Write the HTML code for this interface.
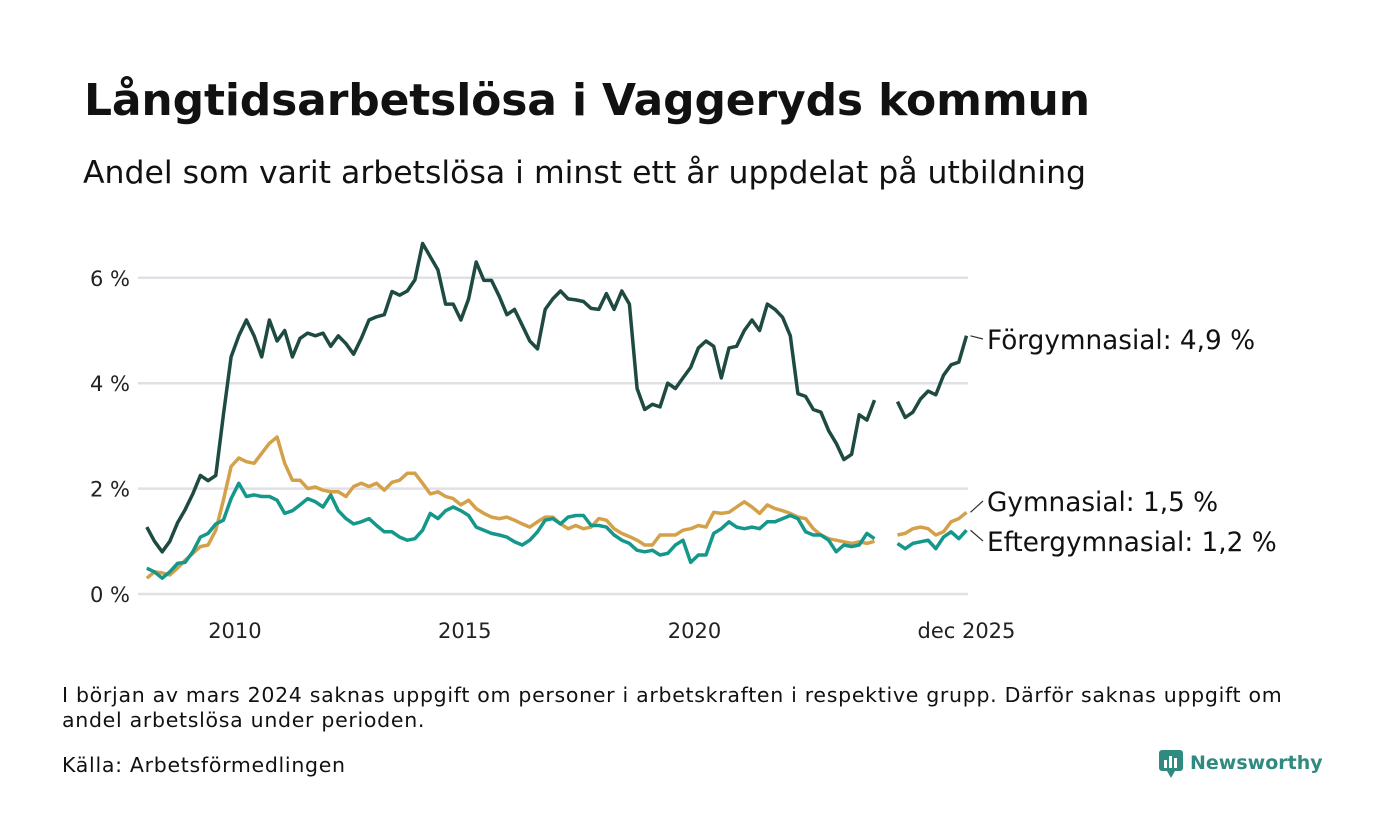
<!DOCTYPE html>
<html><head><meta charset="utf-8">
<style>
body{margin:0;background:#fff;font-family:"Liberation Sans","DejaVu Sans",sans-serif;}
#wrap{position:relative;width:1400px;height:840px;overflow:hidden;background:#fff;}
.t{position:absolute;white-space:nowrap;color:#111;}
</style></head>
<body>
<div id="wrap">
<div class="t" style="left:84px;top:75px;font-size:44px;font-weight:bold;font-family:'DejaVu Sans',sans-serif;letter-spacing:-0.15px;">Långtidsarbetslösa i Vaggeryds kommun</div>
<div class="t" style="left:83px;top:155px;font-size:31.5px;font-family:'DejaVu Sans',sans-serif;">Andel som varit arbetslösa i minst ett år uppdelat på utbildning</div>
<svg id="chart" width="1400" height="660" style="position:absolute;left:0;top:0;font-family:'DejaVu Sans',sans-serif;"></svg>
<div class="t" style="left:62px;top:683px;font-size:20.5px;letter-spacing:0.7px;line-height:25px;white-space:normal;width:1240px;font-family:'DejaVu Sans',sans-serif;">I början av mars 2024 saknas uppgift om personer i arbetskraften i respektive grupp. Därför saknas uppgift om andel arbetslösa under perioden.</div>
<div class="t" style="left:62px;top:753px;font-size:20.5px;letter-spacing:0.7px;font-family:'DejaVu Sans',sans-serif;">Källa: Arbetsförmedlingen</div>
<div style="position:absolute;left:1158px;top:747px;height:32px;display:flex;align-items:center;">
<svg width="26" height="32"><rect x="1" y="3" width="24" height="21" rx="3" fill="#2f8a80"/><polygon points="9,24 17,24 13,31" fill="#2f8a80"/><rect x="6" y="13" width="3" height="8" fill="#fff"/><rect x="11" y="9" width="3" height="12" fill="#fff"/><rect x="16" y="11" width="3" height="10" fill="#fff"/></svg>
<span style="margin-left:6px;font-size:19px;font-weight:bold;color:#2f8a80;font-family:'DejaVu Sans',sans-serif;">Newsworthy</span>
</div>
</div>
<script>
// Bimonthly observations: Feb, Apr, Jun, Aug, Oct, Dec of each year 2008–2025
const years = [2008,2009,2010,2011,2012,2013,2014,2015,2016,2017,2018,2019,2020,2021,2022,2023,2024,2025];
const monthsInYear = [1,3,5,7,9,11];
const forgymnasial = [
1.27,1.0,0.8,1.0,1.35,1.6,
1.9,2.25,2.15,2.25,3.4,4.5,
4.9,5.2,4.9,4.5,5.2,4.8,
5.0,4.5,4.85,4.95,4.9,4.95,
4.7,4.9,4.75,4.55,4.85,5.2,
5.26,5.3,5.74,5.67,5.75,5.96,
6.65,6.4,6.15,5.5,5.5,5.2,
5.6,6.3,5.95,5.95,5.65,5.3,
5.4,5.1,4.8,4.65,5.4,5.6,
5.75,5.6,5.58,5.55,5.42,5.4,
5.7,5.4,5.75,5.5,3.9,3.5,
3.6,3.55,4.0,3.9,4.1,4.3,
4.67,4.8,4.7,4.1,4.67,4.7,
5.0,5.2,5.0,5.5,5.4,5.25,
4.9,3.8,3.75,3.5,3.45,3.1,
2.86,2.55,2.65,3.4,3.3,3.68,
null,null,3.65,3.35,3.45,3.7,
3.85,3.78,4.15,4.35,4.4,4.9];
const gymnasial = [
0.30,0.42,0.40,0.36,0.49,0.64,
0.77,0.90,0.93,1.21,1.78,2.42,
2.58,2.51,2.48,2.67,2.86,2.98,
2.48,2.16,2.16,2.0,2.03,1.97,
1.94,1.94,1.85,2.04,2.1,2.04,
2.1,1.97,2.12,2.16,2.29,2.29,
2.1,1.9,1.94,1.85,1.81,1.69,
1.78,1.62,1.53,1.46,1.43,1.46,
1.4,1.33,1.27,1.37,1.46,1.46,
1.33,1.24,1.3,1.24,1.27,1.43,
1.4,1.24,1.15,1.09,1.02,0.93,
0.93,1.12,1.12,1.12,1.21,1.24,
1.3,1.27,1.55,1.53,1.55,1.65,
1.75,1.65,1.53,1.69,1.62,1.58,
1.53,1.46,1.43,1.24,1.12,1.05,
1.02,0.99,0.96,0.99,0.96,1.0,
null,null,1.12,1.15,1.24,1.27,
1.24,1.12,1.18,1.37,1.43,1.55];
const eftergymnasial = [
0.49,0.42,0.30,0.42,0.58,0.60,
0.80,1.08,1.15,1.33,1.4,1.81,
2.1,1.85,1.88,1.85,1.85,1.78,
1.53,1.58,1.69,1.81,1.75,1.65,
1.88,1.58,1.43,1.33,1.37,1.43,
1.3,1.18,1.18,1.08,1.02,1.05,
1.21,1.53,1.43,1.58,1.65,1.58,
1.49,1.27,1.21,1.15,1.12,1.08,
0.99,0.93,1.02,1.18,1.4,1.43,
1.33,1.46,1.49,1.49,1.3,1.3,
1.27,1.12,1.02,0.96,0.83,0.8,
0.83,0.74,0.77,0.93,1.02,0.6,
0.74,0.74,1.15,1.24,1.37,1.27,
1.24,1.27,1.24,1.37,1.37,1.43,
1.49,1.43,1.18,1.12,1.12,1.02,
0.8,0.93,0.9,0.93,1.15,1.05,
null,null,0.96,0.86,0.96,0.99,
1.02,0.86,1.08,1.18,1.05,1.21];
const yTicks = [0,2,4,6];
const yTickLabels = ["0 %","2 %","4 %","6 %"];
const xTickYears = [2010,2015,2020];
const seriesNames = ["Förgymnasial","Gymnasial","Eftergymnasial"];
const lastLabels = ["Förgymnasial: 4,9 %","Gymnasial: 1,5 %","Eftergymnasial: 1,2 %"];

const NS="http://www.w3.org/2000/svg";
const svg=document.getElementById('chart');
function xScale(monthIndex){ return 143 + monthIndex*3.83; } // months since Jan 2008
function yScale(v){ return 594 - v*52.7; }
function mk(tag,attrs){const e=document.createElementNS(NS,tag);for(const k in attrs)e.setAttribute(k,attrs[k]);svg.appendChild(e);return e;}

yTicks.forEach((t,i)=>{
  const g=mk('line',{x1:138,x2:968,y1:yScale(t),y2:yScale(t),stroke:'#e1e0e6','stroke-width':2.5});
  
  
  const tx=mk('text',{x:130,y:yScale(t)+8,'text-anchor':'end','font-size':21,fill:'#222'});
  tx.textContent=yTickLabels[i];
  
  
});
xTickYears.forEach(yr=>{
  const tx=mk('text',{x:xScale((yr-2008)*12),y:638,'text-anchor':'middle','font-size':21,fill:'#222'});
  tx.textContent=String(yr);
  
  
});
const lastTx=mk('text',{x:xScale((2025-2008)*12+11),y:638,'text-anchor':'middle','font-size':21,fill:'#222'});
lastTx.textContent='dec 2025';



const series=[forgymnasial,gymnasial,eftergymnasial];
const colors=['#1e4a42','#d4a04a','#15978b'];
const labelY=[340,502,542];
[1,2,0].forEach(si=>{
  const data=series[si];
  let d='',pen=false,lastX=0,lastV=0;
  data.forEach((v,i)=>{
    const m=(years[Math.floor(i/6)]-2008)*12+monthsInYear[i%6];
    if(v===null){pen=false;return;}
    const x=xScale(m),y=yScale(v);
    d+=(pen?'L':'M')+x.toFixed(1)+','+y.toFixed(1);
    pen=true;lastX=x;lastV=v;
  });
  const p=mk('path',{d:d,fill:'none',stroke:colors[si],'stroke-width':3.5,'stroke-linejoin':'round'});
  
  
  const ld=mk('line',{x1:lastX+4,y1:yScale(lastV),x2:983,y2:labelY[si]-1,stroke:'#333','stroke-width':1.2});
  
  
  const lt=mk('text',{x:987,y:labelY[si]+9,'font-size':26.3,fill:'#111'});
  lt.textContent=lastLabels[si];
  
  
});
</script>
</body></html>
